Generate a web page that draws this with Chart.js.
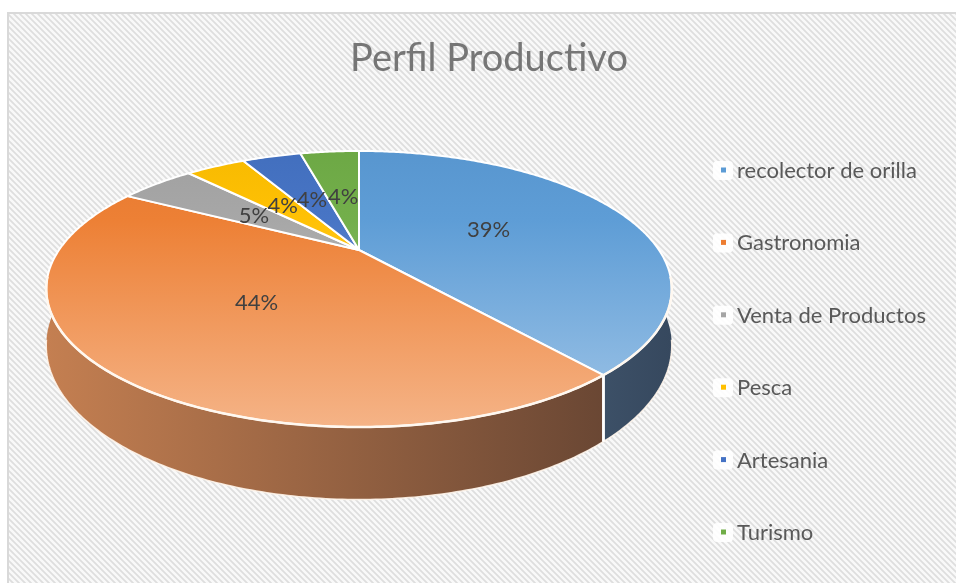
<!DOCTYPE html>
<html><head><meta charset="utf-8">
<script src="https://cdn.jsdelivr.net/npm/chart.js@4.4.1/dist/chart.umd.min.js"></script>
<style>html,body{margin:0;padding:0;background:#fff}#wrap{width:956px;height:583px;position:relative}</style>
</head><body><div id="wrap"><canvas id="c" width="956" height="583"></canvas></div>
<script>
const categories = ['recolector de orilla','Gastronomia','Venta de Productos','Pesca','Artesania','Turismo'];
const shares = [39,44,5,4,4,4];
const colors = ['#5B9BD5','#ED7D31','#A5A5A5','#FFC000','#4472C4','#70AD47'];
const chartTitle = 'Perfil Productivo';

// projection of the tilted disk (layout constants)
const CX = 359, CY = 250, A = 300, B = 127, K = 0.2826, D = 52;
const FONT = 'Lato, "Open Sans", sans-serif';

function hex(c){return [parseInt(c.slice(1,3),16),parseInt(c.slice(3,5),16),parseInt(c.slice(5,7),16)];}
function mix(c, o, t){return 'rgb('+c.map((v,i)=>Math.round(v*(1-t)+o[i]*t)).join(',')+')';}
function proj(theta, r, depth){
  const u = r*Math.cos(theta), v = r*Math.sin(theta);
  const w = 1 - K*v;
  return [CX + A*u/w, CY + B*v/w + depth/w];
}

const tile = document.createElement('canvas'); tile.width = 6; tile.height = 6;
(function(){const t = tile.getContext('2d'); t.fillStyle = '#f9f9f9'; t.fillRect(0,0,6,6);
  t.strokeStyle = '#dedede'; t.lineWidth = 1.7; t.beginPath();
  t.moveTo(-1,-1); t.lineTo(7,7); t.moveTo(-1,5); t.lineTo(1,7); t.moveTo(5,-1); t.lineTo(7,1); t.stroke();})();

const bgPlugin = {
  id: 'bg',
  beforeDraw(chart){
    const ctx = chart.ctx; ctx.save();
    ctx.fillStyle = '#fff'; ctx.fillRect(0,0,chart.width,chart.height);
    ctx.fillStyle = ctx.createPattern(tile,'repeat'); ctx.fillRect(8,13,chart.width-8,chart.height-13);
    ctx.strokeStyle = '#d9d9d9'; ctx.lineWidth = 2; ctx.beginPath();
    ctx.moveTo(8,chart.height); ctx.lineTo(8,13); ctx.lineTo(chart.width,13); ctx.stroke();
    ctx.restore();
  }
};

const pie3d = {
  id: 'pie3d',
  beforeDatasetsDraw(chart){
    const ctx = chart.ctx; const meta = chart.getDatasetMeta(0);
    const lo = -10*Math.PI/180, hi = 190*Math.PI/180;
    ctx.save();
    // side walls
    meta.data.forEach((el, i) => {
      let a = el.startAngle, b = el.endAngle;
      const segs = [[a,b],[a-2*Math.PI,b-2*Math.PI],[a+2*Math.PI,b+2*Math.PI]];
      segs.forEach(([s,e]) => {
        const s1 = Math.max(s, lo), e1 = Math.min(e, hi);
        if (e1 <= s1) return;
        const base = hex(colors[i]);
        const g = ctx.createLinearGradient(47,0,672,0);
        g.addColorStop(0, mix(base,[140,130,125],0.42));
        g.addColorStop(1, mix(base,[40,40,48],0.72));
        ctx.beginPath();
        const n = Math.max(2, Math.ceil((e1-s1)/0.01));
        for (let j=0;j<=n;j++){const p = proj(s1+(e1-s1)*j/n,1,0); j?ctx.lineTo(p[0],p[1]):ctx.moveTo(p[0],p[1]);}
        for (let j=n;j>=0;j--){const p = proj(s1+(e1-s1)*j/n,1,D); ctx.lineTo(p[0],p[1]);}
        ctx.closePath(); ctx.fillStyle = g; ctx.fill();
      });
    });
    // bottom rim outline
    ctx.strokeStyle = 'rgba(255,245,235,0.9)'; ctx.lineWidth = 1.5; ctx.beginPath();
    for (let j=0;j<=200;j++){const t = 0.25 + (Math.PI-0.5)*j/200; const p = proj(t,1,D); j?ctx.lineTo(p[0],p[1]):ctx.moveTo(p[0],p[1]);}
    ctx.stroke();
    // wall edges at slice boundaries
    meta.data.forEach(el => {
      [el.startAngle, el.endAngle].forEach(t => {
        let tt = t; while (tt < -Math.PI/2) tt += 2*Math.PI; while (tt > 1.5*Math.PI) tt -= 2*Math.PI;
        if (tt > 0.3 && tt < Math.PI-0.3){
          const p = proj(tt,1,0), q = proj(tt,1,D);
          ctx.strokeStyle = '#fff'; ctx.lineWidth = 2.5; ctx.beginPath(); ctx.moveTo(p[0],p[1]); ctx.lineTo(q[0],q[1]); ctx.stroke();
        }
      });
    });
    // top faces
    meta.data.forEach((el, i) => {
      const base = hex(colors[i]);
      const g = ctx.createLinearGradient(0,150,0,430);
      g.addColorStop(0, mix(base,[0,0,0],0.03));
      g.addColorStop(0.25, mix(base,[255,255,255],0.02));
      g.addColorStop(1, mix(base,[255,255,255],0.42));
      const s = el.startAngle, e = el.endAngle;
      const n = Math.max(2, Math.ceil((e-s)/0.01));
      ctx.beginPath(); ctx.moveTo(CX, CY);
      for (let j=0;j<=n;j++){const p = proj(s+(e-s)*j/n,1,0); ctx.lineTo(p[0],p[1]);}
      ctx.closePath(); ctx.fillStyle = g; ctx.fill();
      ctx.strokeStyle = '#ffffff'; ctx.lineWidth = 2; ctx.lineJoin = 'round'; ctx.stroke();
    });
    // rim line
    ctx.strokeStyle = '#fff8f0'; ctx.lineWidth = 2.5; ctx.beginPath();
    for (let j=0;j<=200;j++){const t = 0.2 + (Math.PI-0.4)*j/200; const p = proj(t,1,0); j?ctx.lineTo(p[0],p[1]):ctx.moveTo(p[0],p[1]);}
    ctx.stroke();
    // labels
    const total = shares.reduce((a,b)=>a+b,0);
    ctx.fillStyle = '#404040'; ctx.font = '22px ' + FONT; ctx.textAlign = 'center'; ctx.textBaseline = 'middle';
    meta.data.forEach((el, i) => {
      const m = (el.startAngle + el.endAngle)/2;
      const p = proj(m, 0.48, 0);
      ctx.fillText(Math.round(shares[i]/total*100) + '%', p[0], p[1]);
    });
    ctx.restore();
    return false;
  },
  afterDraw(chart){
    const ctx = chart.ctx; ctx.save();
    ctx.fillStyle = '#767676'; ctx.font = '38px ' + FONT; ctx.textAlign = 'center'; ctx.textBaseline = 'middle';
    ctx.fillText(chartTitle, 489, 59);
    ctx.font = '22px ' + FONT; ctx.textAlign = 'left';
    categories.forEach((c, i) => {
      const y = 170 + i*72.4;
      ctx.fillStyle = 'rgba(255,255,255,0.9)';
      ctx.beginPath(); ctx.roundRect(713, y-9, 20, 19, 4); ctx.fill();
      ctx.fillStyle = colors[i]; ctx.fillRect(721, y-2.5, 5, 5);
      ctx.fillStyle = '#595959'; ctx.fillText(c, 737, y+1);
    });
    ctx.restore();
  }
};

new Chart(document.getElementById('c'), {
  type: 'pie',
  data: { labels: categories, datasets: [{ data: shares, backgroundColor: colors, borderColor: '#fff', borderWidth: 2 }] },
  options: {
    responsive: false, animation: false,
    layout: { padding: { left: 40, right: 280, top: 140, bottom: 80 } },
    plugins: { legend: { display: false }, tooltip: { enabled: false }, title: { display: false } }
  },
  plugins: [bgPlugin, pie3d]
});
</script></body></html>
